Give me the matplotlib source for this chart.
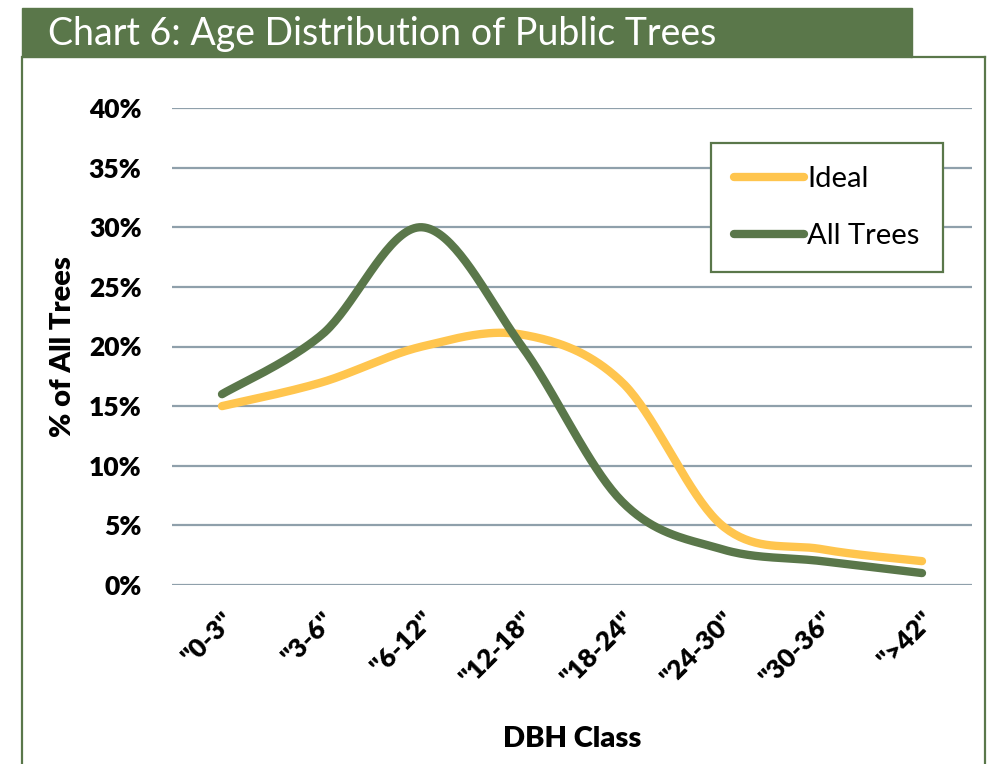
import numpy as np
import matplotlib.pyplot as plt
from matplotlib.patches import Rectangle
from matplotlib.lines import Line2D

classes = ['"0-3"', '"3-6"', '"6-12"', '"12-18"', '"18-24"', '"24-30"', '"30-36"', '">42"']
ideal = [15, 17, 20, 21, 17, 5, 3, 2]
all_trees = [16, 21, 30, 20, 7, 3, 2, 1]
y_ticks = [0, 5, 10, 15, 20, 25, 30, 35, 40]

GREEN = '#5A774A'
YELLOW = '#FFC54E'
GRID = '#8FA0AB'


def smooth(xs, ys, n=40):
    # catmull-rom through the points, like Excel's smoothed line
    xs = np.asarray(xs, float)
    ys = np.asarray(ys, float)
    px = np.concatenate([[xs[0]], xs, [xs[-1]]])
    py = np.concatenate([[ys[0]], ys, [ys[-1]]])
    outx, outy = [], []
    t = np.linspace(0, 1, n)
    for i in range(1, len(px) - 2):
        for p, out in ((px, outx), (py, outy)):
            p0, p1, p2, p3 = p[i - 1], p[i], p[i + 1], p[i + 2]
            out.extend(0.5 * ((2 * p1) + (-p0 + p2) * t
                              + (2 * p0 - 5 * p1 + 4 * p2 - p3) * t ** 2
                              + (-p0 + 3 * p1 - 3 * p2 + p3) * t ** 3))
    return outx, outy


plt.rcParams['font.family'] = ['Lato', 'DejaVu Sans']

fig = plt.figure(figsize=(9.9, 7.64), dpi=100)

# title bar and frame
fig.patches.append(Rectangle((22 / 990, 1 - 57 / 764), 890 / 990, 49 / 764,
                             transform=fig.transFigure, color=GREEN, zorder=0))
fig.add_artist(Line2D([22 / 990, 22 / 990], [0, 1 - 57 / 764], color=GREEN, lw=1.6))
fig.add_artist(Line2D([912 / 990, 985 / 990], [1 - 57 / 764, 1 - 57 / 764], color=GREEN, lw=1.6))
fig.add_artist(Line2D([985 / 990, 985 / 990], [0, 1 - 57 / 764], color=GREEN, lw=1.6))
fig.text(48 / 990, 1 - 34 / 764, 'Chart 6: Age Distribution of Public Trees', color='white',
         fontsize=27, fontweight='normal', va='center', ha='left')

ax = fig.add_axes([172 / 990, 1 - 585 / 764, 800 / 990, 477 / 764])
x = np.arange(len(classes))

sx, sy = smooth(x, ideal)
ax.plot(sx, sy, color=YELLOW, lw=6, solid_capstyle='round', label='Ideal', zorder=3)
sx, sy = smooth(x, all_trees)
ax.plot(sx, sy, color=GREEN, lw=6, solid_capstyle='round', label='All Trees', zorder=4)

ax.set_xlim(-0.5, len(classes) - 0.5)
ax.set_ylim(0, 40)
ax.set_yticks(y_ticks)
ax.set_yticklabels([f'{v}%' for v in y_ticks], fontsize=19, fontweight='heavy')
ax.set_xticks(x)
ax.set_xticklabels(classes, rotation=45, ha='right', rotation_mode='anchor',
                   fontsize=19, fontweight='heavy')
ax.tick_params(length=0, pad=22)
ax.tick_params(axis='x', pad=16)
ax.grid(axis='y', color=GRID, lw=1.6)
ax.set_axisbelow(True)
for s in ax.spines.values():
    s.set_visible(False)

ax.set_ylabel('% of All Trees', fontsize=21, fontweight='heavy', labelpad=9)
ax.set_xlabel('DBH Class', fontsize=21, fontweight='heavy', labelpad=26)

leg = ax.legend(loc='upper left', bbox_to_anchor=(711 / 990, 1 - 143 / 764),
                bbox_transform=fig.transFigure, borderaxespad=0, fontsize=21,
                frameon=True, fancybox=False, handlelength=2.4, handletextpad=0.1,
                labelspacing=1.05, borderpad=0.8)
leg.get_frame().set_edgecolor(GREEN)
leg.get_frame().set_linewidth(1.6)
leg.get_frame().set_alpha(1)

fig.savefig('out.png', dpi=100)
